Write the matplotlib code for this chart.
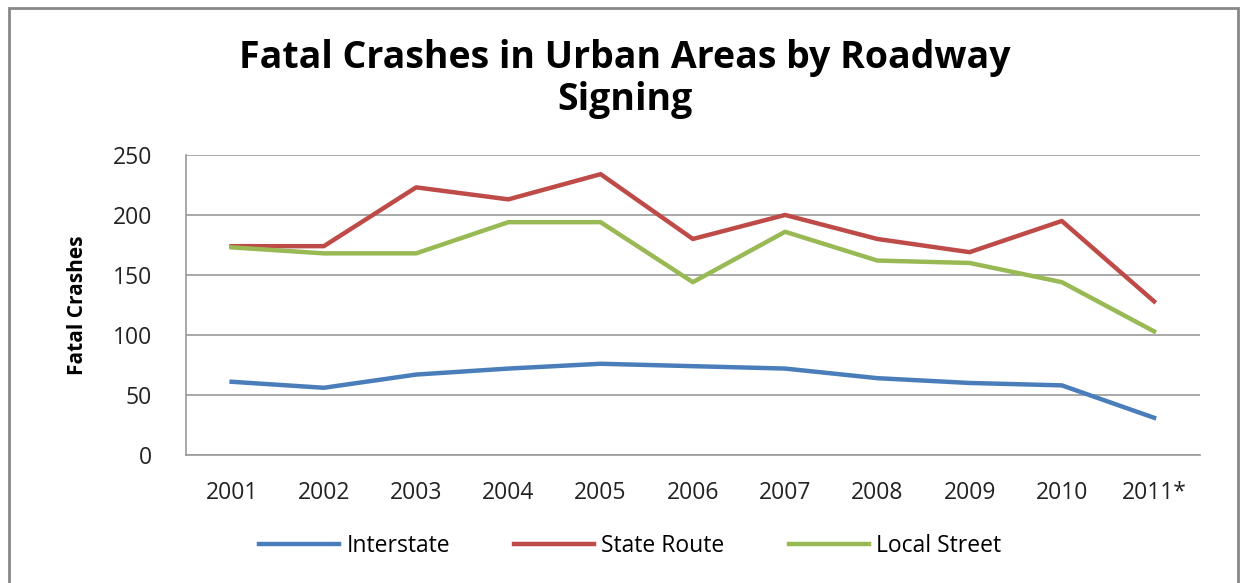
import matplotlib.pyplot as plt
from matplotlib.patches import Rectangle

years = ['2001', '2002', '2003', '2004', '2005', '2006', '2007', '2008', '2009', '2010', '2011*']
interstate = [61, 56, 67, 72, 76, 74, 72, 64, 60, 58, 31]
state_route = [174, 174, 223, 213, 234, 180, 200, 180, 169, 195, 128]
local_street = [173, 168, 168, 194, 194, 144, 186, 162, 160, 144, 103]

plt.rcParams['font.family'] = ['Open Sans', 'DejaVu Sans']

fig = plt.figure(figsize=(12.45, 5.83), dpi=100)
ax = fig.add_axes([0.149, 0.2196, 0.815, 0.5146])

x = list(range(len(years)))
ax.plot(x, interstate, color='#4a7ebb', lw=3.2, label='Interstate')
ax.plot(x, state_route, color='#be4b48', lw=3.2, label='State Route')
ax.plot(x, local_street, color='#98b954', lw=3.2, label='Local Street')

ax.set_xlim(-0.5, len(years) - 0.5)
ax.set_ylim(0, 250)
ax.set_yticks(range(0, 251, 50))
ax.set_xticks(x)
ax.set_xticklabels(years)
ax.tick_params(axis='both', labelsize=16.5, length=0, colors='#222222')
ax.tick_params(axis='x', pad=19)
ax.tick_params(axis='y', pad=24)
ax.yaxis.grid(True, color='#999999', lw=1.2)
ax.set_axisbelow(True)
for s in ['top', 'right']:
    ax.spines[s].set_visible(False)
for s in ['left', 'bottom']:
    ax.spines[s].set_color('#999999')
    ax.spines[s].set_linewidth(1.2)

ax.set_ylabel('Fatal Crashes', fontsize=15, fontweight='bold', labelpad=18)

fig.text(0.502, 0.865, 'Fatal Crashes in Urban Areas by Roadway\nSigning', ha='center', va='center',
         fontsize=27, fontweight='bold', linespacing=1.15)

fig.legend(loc='center', bbox_to_anchor=(0.506, 0.0635), ncol=3, frameon=False, fontsize=16.5,
           handlelength=3.5, columnspacing=2.8, handletextpad=0.3)

fig.patches.append(Rectangle((0.007, -0.01), 0.987, 0.997, transform=fig.transFigure,
                             fill=False, edgecolor='#888888', lw=2))

fig.savefig('out.png', dpi=100)
